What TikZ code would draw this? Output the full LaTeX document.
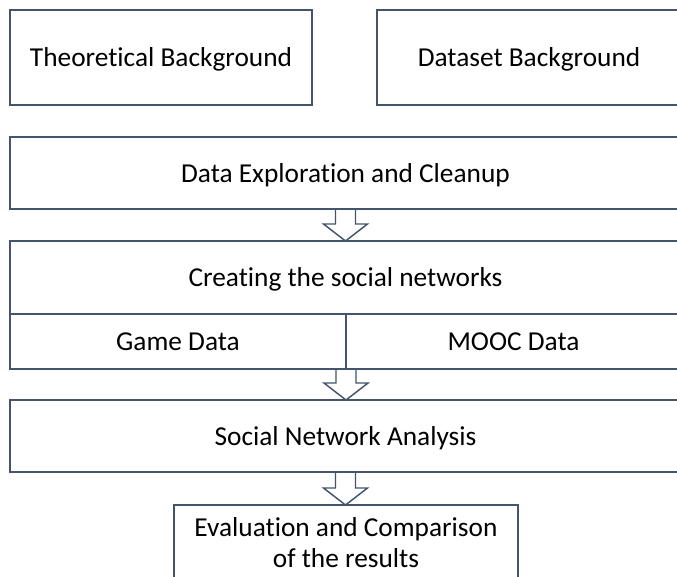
\documentclass[tikz,border=0pt]{standalone}
\usepackage{fontspec}
\setmainfont{Carlito}[Ligatures=NoCommon]
\usetikzlibrary{positioning, calc}
\definecolor{boxline}{RGB}{68,84,106}

% Fleche creuse entre deux blocs
\newcommand{\blockarrow}[2]{%
  \draw[arrowline] ($(#1)+(-10,0)$) -- ($(#1 |- #2)+(-10,-17)$) -- ($(#1 |- #2)+(-22,-17)$)
    -- (#1 |- #2) -- ($(#1 |- #2)+(22,-17)$) -- ($(#1 |- #2)+(10,-17)$) -- ($(#1)+(10,0)$);}

\begin{document}
\begin{tikzpicture}[x=0.75pt, y=-0.75pt,
  stage/.style={draw=boxline, line width=1.1pt, inner sep=0pt, outer sep=0pt,
    anchor=north west, align=center, font=\fontsize{20.5}{23.5}\selectfont},
  oneline/.style={stage, text height=14pt, text depth=0pt},
  arrowline/.style={draw=boxline, line width=1.1pt, line join=miter}]

\useasboundingbox (0,0) rectangle (677,576);
\clip (0,0) rectangle (677,576);

% Contexte
\node[oneline, minimum width=226.5pt, minimum height=71.25pt] (theory) at (10,10) {Theoretical Background};
\node[oneline, minimum width=228pt, minimum height=71.25pt] (dataset) at (377,10) {Dataset Background};

% Exploration
\node[oneline, minimum width=503.25pt, minimum height=54pt] (explore) at (10,137) {Data Exploration and Cleanup};

% Reseaux sociaux
\node[oneline, minimum width=503.25pt, minimum height=54.75pt] (create) at (10,241) {Creating the social networks};
\node[oneline, minimum width=252pt, minimum height=41.25pt] (game) at (10,314) {Game Data};
\node[oneline, minimum width=251.25pt, minimum height=41.25pt] (mooc) at (346,314) {MOOC Data};

% Analyse
\node[oneline, minimum width=503.25pt, minimum height=54pt] (sna) at (10,400) {Social Network Analysis};

% Evaluation
\node[stage, minimum width=258pt, minimum height=56.25pt] (eval) at (174,505) {Evaluation and Comparison\\of the results};

% Fleches
\blockarrow{explore.south}{create.north}
\blockarrow{game.south east}{sna.north}
\blockarrow{sna.south}{eval.north}

\end{tikzpicture}
\end{document}
